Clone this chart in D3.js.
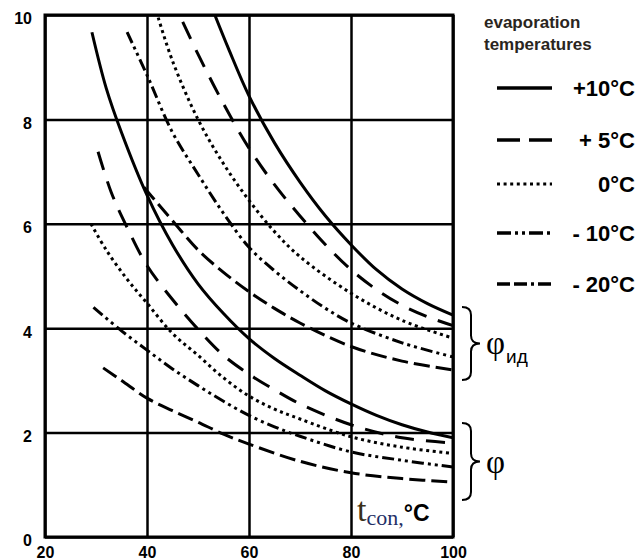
<!DOCTYPE html>
<html>
<head>
<meta charset="utf-8">
<script src="https://cdn.jsdelivr.net/npm/d3@7"></script>
<style>
  body { margin: 0; background: #fff; }
  svg { display: block; }
  .tick text { font-family: "Liberation Sans", Arial, sans-serif; font-weight: bold; font-size: 16px; fill: #000; }
</style>
</head>
<body>
<div id="chart"></div>
<script>
// chart data (condensation temperature vs ratio)
var xTicks = [20, 40, 60, 80, 100];
var yTicks = [0, 2, 4, 6, 8, 10];
var evapLabels = ["+10°C", "+ 5°C", "0°C", "- 10°C", "- 20°C"];

// upper family (phi_id)
var idPlus10 = [[53.3,10],[56,9.35],[60,8.45],[65,7.55],[70,6.8],[75,6.15],[80,5.6],[85,5.12],[90,4.75],[95,4.47],[100,4.25]];
var idPlus5  = [[47,9.87],[50,9.25],[55,8.3],[60,7.45],[65,6.75],[70,6.15],[75,5.6],[80,5.12],[85,4.74],[90,4.44],[95,4.22],[100,4.05]];
var idZero   = [[42.2,9.95],[45,9.12],[50,8.0],[55,7.15],[60,6.45],[65,5.85],[70,5.37],[80,4.67],[90,4.15],[100,3.81]];
var idMinus10 = [[36.1,9.67],[40,8.85],[45,7.75],[50,6.95],[55,6.2],[60,5.55],[65,5.1],[70,4.72],[75,4.38],[80,4.1],[90,3.72],[100,3.45]];
var idMinus20 = [[39.4,6.7],[42,6.4],[45,6.06],[50,5.5],[55,5.07],[60,4.7],[65,4.38],[70,4.1],[80,3.65],[90,3.37],[100,3.2]];

// lower family (phi)
var phiPlus10 = [[29.2,9.67],[32,8.6],[35,7.75],[40,6.55],[45,5.6],[50,4.85],[55,4.28],[60,3.8],[65,3.42],[70,3.1],[75,2.8],[80,2.55],[85,2.33],[90,2.15],[95,2.01],[100,1.9]];
var phiPlus5  = [[30.4,7.38],[33,6.6],[36,5.95],[40,5.2],[45,4.55],[50,3.98],[55,3.48],[60,3.12],[65,2.82],[70,2.55],[80,2.15],[90,1.9],[100,1.8]];
var phiZero   = [[29,6.0],[32,5.5],[36,4.95],[40,4.48],[45,3.9],[50,3.48],[55,3.05],[60,2.7],[65,2.45],[70,2.26],[80,1.92],[90,1.72],[100,1.6]];
var phiMinus10 = [[29.5,4.4],[35,3.95],[40,3.58],[45,3.22],[50,2.9],[55,2.6],[60,2.33],[65,2.11],[70,1.93],[80,1.63],[90,1.47],[100,1.34]];
var phiMinus20 = [[31.4,3.24],[35,3.0],[40,2.66],[45,2.42],[50,2.2],[55,1.97],[60,1.78],[70,1.45],[80,1.23],[90,1.12],[100,1.05]];

var W = 638, H = 560;
var mLeft = 45, mRight = 453, mTop = 15, mBottom = 537;

var svg = d3.select("#chart").append("svg").attr("width", W).attr("height", H);

var x = d3.scaleLinear().domain([20, 100]).range([mLeft, mRight]);
var y = d3.scaleLinear().domain([0, 10]).range([mBottom, mTop]);

// grid through axes
var gx = svg.append("g")
    .attr("transform", "translate(0," + mBottom + ")")
    .call(d3.axisBottom(x).tickValues(xTicks).tickSize(-(mBottom - mTop)).tickPadding(10).tickFormat(d3.format("d")));
var gy = svg.append("g")
    .attr("transform", "translate(" + mLeft + ",0)")
    .call(d3.axisLeft(y).tickValues(yTicks).tickSize(-(mRight - mLeft)).tickPadding(13).tickFormat(d3.format("d")));
gx.select(".domain").remove();
gy.select(".domain").remove();
gx.selectAll(".tick line").attr("stroke", "#000").attr("stroke-width", 2.5);
gy.selectAll(".tick line").attr("stroke", "#000").attr("stroke-width", 2.5);
gx.selectAll(".tick text").attr("dy", "0.71em");
gy.selectAll(".tick text").attr("dy", "0.55em");

svg.append("rect")
    .attr("x", mLeft).attr("y", mTop)
    .attr("width", mRight - mLeft).attr("height", mBottom - mTop)
    .attr("fill", "none").attr("stroke", "#000").attr("stroke-width", 3);

svg.append("clipPath").attr("id", "plotclip")
  .append("rect").attr("x", mLeft).attr("y", mTop).attr("width", mRight - mLeft).attr("height", mBottom - mTop);

// line styles per evaporation temperature
var dashes = [null, "19,12", "3,3.6", "12,4,3,4,3,4", "16,6"];

var line = d3.line()
    .x(function(d) { return x(d[0]); })
    .y(function(d) { return y(d[1]); })
    .curve(d3.curveCatmullRom.alpha(0.5));

var curves = [
  {data: idPlus10, s: 0}, {data: idPlus5, s: 1}, {data: idZero, s: 2}, {data: idMinus10, s: 3}, {data: idMinus20, s: 4},
  {data: phiPlus10, s: 0}, {data: phiPlus5, s: 1}, {data: phiZero, s: 2}, {data: phiMinus10, s: 3}, {data: phiMinus20, s: 4}
];

svg.append("g").attr("clip-path", "url(#plotclip)")
  .selectAll("path").data(curves).enter().append("path")
    .attr("d", function(d) { return line(d.data); })
    .attr("fill", "none")
    .attr("stroke", "#000")
    .attr("stroke-width", 3)
    .attr("stroke-dasharray", function(d) { return dashes[d.s]; });

// legend
var leg = svg.append("g");
leg.append("text").attr("x", 484).attr("y", 28).text("evaporation")
    .style("font-family", "Liberation Sans, Arial, sans-serif").style("font-weight", "bold").style("font-size", "17px").attr("fill", "#2a2520");
leg.append("text").attr("x", 484).attr("y", 50).text("temperatures")
    .style("font-family", "Liberation Sans, Arial, sans-serif").style("font-weight", "bold").style("font-size", "17px").attr("fill", "#2a2520");

var legY = [88, 140, 184, 233, 284];
var legDash = [null, "23,9", "3,3.6", "14,4,3,4,3,4", "13,4,13,4,3,4"];
evapLabels.forEach(function(lab, i) {
  leg.append("line")
    .attr("x1", 497).attr("x2", 552).attr("y1", legY[i]).attr("y2", legY[i])
    .attr("stroke", "#000").attr("stroke-width", i == 2 ? 3 : 3.5)
    .attr("stroke-dasharray", legDash[i]);
  leg.append("text")
    .attr("x", 635).attr("y", legY[i] + 8)
    .attr("text-anchor", "end")
    .style("font-family", "Liberation Sans, Arial, sans-serif").style("font-weight", "bold").style("font-size", "22px")
    .text(lab);
});

// braces
function brace(x0, y0, y1, w) {
  var ym = (y0 + y1) / 2, xs = x0 + w / 2, r = 8;
  return "M" + x0 + "," + y0 + " Q" + xs + "," + y0 + " " + xs + "," + (y0 + r) +
    " L" + xs + "," + (ym - r) + " Q" + xs + "," + ym + " " + (x0 + w) + "," + ym +
    " Q" + xs + "," + ym + " " + xs + "," + (ym + r) +
    " L" + xs + "," + (y1 - r) + " Q" + xs + "," + y1 + " " + x0 + "," + y1;
}
svg.append("path").attr("d", brace(462, 307, 380, 18)).attr("fill", "none").attr("stroke", "#000").attr("stroke-width", 2);
svg.append("path").attr("d", brace(462, 423, 500, 18)).attr("fill", "none").attr("stroke", "#000").attr("stroke-width", 2);

var phi1 = svg.append("text").attr("x", 486).attr("y", 354)
    .style("font-family", "Liberation Serif, Times New Roman, serif").style("font-size", "33px");
phi1.append("tspan").text("φ");
phi1.append("tspan").attr("dy", 9).attr("dx", 1)
    .style("font-family", "Liberation Sans, Arial, sans-serif").style("font-size", "19px").text("ид");
svg.append("text").attr("x", 486).attr("y", 473)
    .style("font-family", "Liberation Serif, Times New Roman, serif").style("font-size", "33px").text("φ");

// x axis title
var xt = svg.append("text").attr("x", 357).attr("y", 521);
xt.append("tspan").style("font-family", "Liberation Serif, Times New Roman, serif").style("font-size", "34px").attr("fill", "#3b3018").text("t");
xt.append("tspan").attr("dy", 4).style("font-family", "Liberation Serif, Times New Roman, serif").style("font-size", "22px").attr("fill", "#1f2f66").text("con,");
xt.append("tspan").attr("dy", -4).style("font-family", "Liberation Sans, Arial, sans-serif").style("font-weight", "bold").style("font-size", "23px").attr("fill", "#000").text("°C");
</script>
</body>
</html>
